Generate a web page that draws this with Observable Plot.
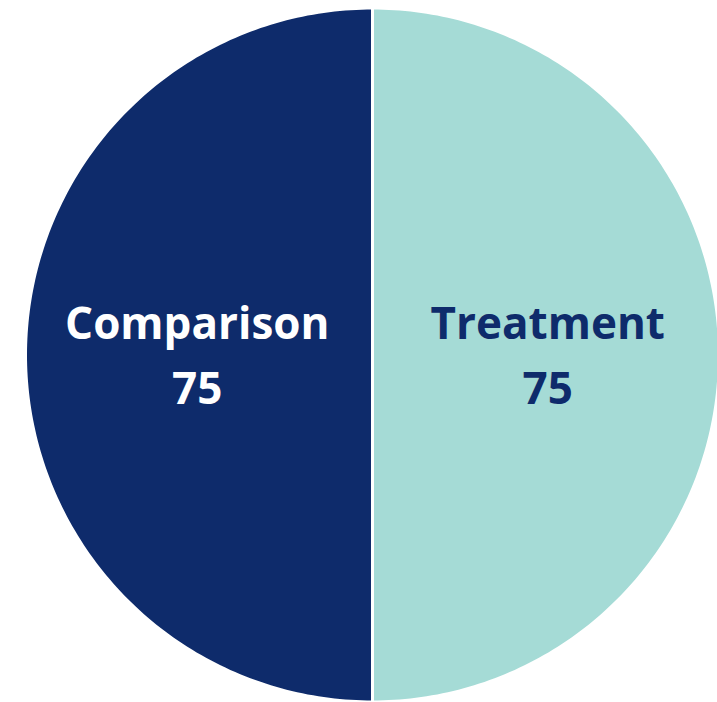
<!DOCTYPE html>
<html>
<head>
<meta charset="utf-8">
<script src="https://cdn.jsdelivr.net/npm/d3@7"></script>
<script src="https://cdn.jsdelivr.net/npm/@observablehq/plot@0.6"></script>
<style>
  html, body { margin: 0; padding: 0; background: #ffffff; }
  #chart svg { display: block; }
</style>
</head>
<body>
<div id="chart"></div>
<script>
const groups = ["Treatment", "Comparison"];
const counts = [75, 75];
const colors = ["#A5DBD6", "#0E2B6B"];
const labelColors = ["#0E2B6B", "#ffffff"];

const pie = d3.pie().sort(null).value(d => d.count);
const slices = pie(groups.map((g, i) => ({group: g, count: counts[i]})));

// Build polygon outlines of each slice in unit coordinates (y up)
const outline = [];
slices.forEach(s => {
  const n = 200;
  outline.push({group: s.data.group, x: 0, y: 0});
  for (let k = 0; k <= n; k++) {
    const a = s.startAngle + (s.endAngle - s.startAngle) * k / n;
    outline.push({group: s.data.group, x: Math.sin(a), y: Math.cos(a)});
  }
  outline.push({group: s.data.group, x: 0, y: 0});
});

const labels = slices.map(s => {
  const a = (s.startAngle + s.endAngle) / 2;
  const r = 0.505;
  return {group: s.data.group, text: s.data.group + "\n" + s.data.count, x: Math.sin(a) * r, y: Math.cos(a) * r + 0.012};
});

const cx = 372, cy = 354.5, R = 347;
const chart = Plot.plot({
  width: 717,
  height: 702,
  margin: 0,
  style: {background: "#ffffff", overflow: "visible"},
  x: {domain: [-1, 1], range: [cx - R, cx + R], axis: null},
  y: {domain: [-1, 1], range: [cy + R, cy - R], axis: null},
  color: {domain: groups, range: colors},
  marks: [
    Plot.line(outline, {x: "x", y: "y", z: "group", fill: "group", stroke: "#ffffff", strokeWidth: 3, curve: "linear"}),
    Plot.text(labels, {
      x: "x", y: "y", text: "text",
      fill: d => labelColors[groups.indexOf(d.group)],
      fontSize: 44, fontWeight: "bold", fontFamily: "Open Sans",
      lineHeight: 1.48, lineAnchor: "middle", textAnchor: "middle"
    })
  ]
});
document.getElementById("chart").appendChild(chart);
</script>
</body>
</html>
